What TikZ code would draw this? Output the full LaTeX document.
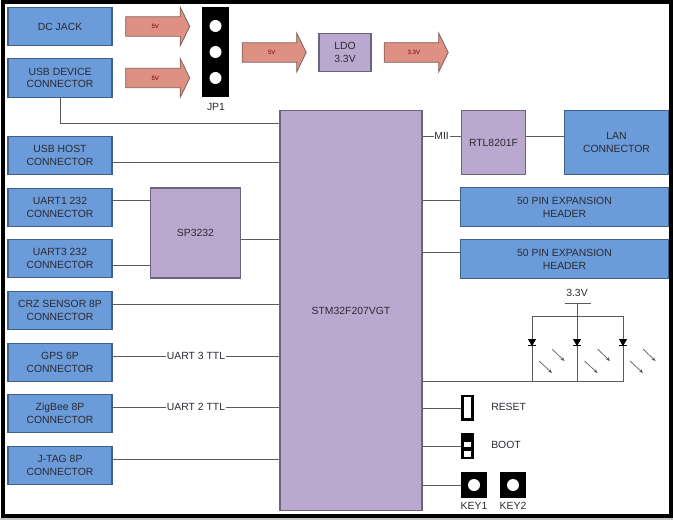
\documentclass[tikz,border=0pt]{standalone}
\usepackage{fontspec}
\setmainfont{Liberation Sans}
\usepackage{xcolor}
\usetikzlibrary{shapes,arrows.meta,positioning,calc}
\definecolor{connblue}{HTML}{6C9BD9}
\definecolor{connedge}{HTML}{3F5F8C}
\definecolor{chippurple}{HTML}{BBA8CE}
\definecolor{chipedge}{HTML}{6B6480}
\definecolor{pwrred}{HTML}{DE9182}
\definecolor{pwredge}{HTML}{7F5F5A}
\definecolor{wiregray}{HTML}{5A5A5A}
\definecolor{labelink}{HTML}{2A2A33}

\begin{document}
\begin{tikzpicture}[
    x=0.75pt, y=-0.75pt,
    connbox/.style={rectangle, draw=connedge, fill=connblue, line width=0.8pt, inner sep=0pt,
                 minimum width=78pt, minimum height=29pt, align=center, font=\fontsize{7.8}{9.6}\selectfont, text=labelink},
    chipbox/.style={rectangle, draw=chipedge, fill=chippurple, line width=0.8pt, inner sep=0pt,
                 align=center, font=\fontsize{7.8}{9.6}\selectfont, text=labelink},
    pinbox/.style={connbox, minimum width=155.5pt},
    pwrarrow/.style={single arrow, draw=pwredge, fill=pwrred, line width=0.6pt, inner xsep=0pt, inner ysep=5.4pt,
                 minimum height=48pt, minimum width=29pt, single arrow head extend=7.2pt,
                 single arrow tip angle=128, font=\fontsize{4.6}{5}\selectfont, text=red!45!black},
    wire/.style={draw=wiregray, line width=0.7pt},
    txt/.style={inner sep=0pt, font=\fontsize{7.8}{9.6}\selectfont, text=labelink},
    tag/.style={fill=white, inner sep=0.6pt, font=\fontsize{7.8}{9.6}\selectfont, text=labelink},
    blackbox/.style={rectangle, fill=black, inner sep=0pt},
    hole/.style={circle, fill=white, inner sep=0pt, minimum size=9pt},
    slot/.style={rectangle, fill=white, inner sep=0pt, minimum width=5.6pt},
    diode/.style={isosceles triangle, isosceles triangle apex angle=60, shape border rotate=-90,
                 fill=black, inner sep=0pt, minimum height=5.2pt, minimum width=5.8pt},
    glow/.style={-{Stealth[length=3pt,width=2.6pt]}, draw=wiregray, line width=0.5pt}
]
    \useasboundingbox (0,0) rectangle (673,520);
    \fill[gray!45] (0,518) rectangle (673,520);
    \draw[line width=3.2pt] (3,2.2) rectangle (671,516);

    \node[connbox] (dcjack) at (60,26.5) {DC JACK};
    \node[connbox] (usbdev) at (60,78) {USB DEVICE\\CONNECTOR};
    \node[connbox] (usbhost) at (60,155.5) {USB HOST\\CONNECTOR};
    \node[connbox] (uart1) at (60,207.5) {UART1 232\\CONNECTOR};
    \node[connbox] (uart3) at (60,258.5) {UART3 232\\CONNECTOR};
    \node[connbox] (crz) at (60,310.5) {CRZ SENSOR 8P\\CONNECTOR};
    \node[connbox] (gps) at (60,362.5) {GPS 6P\\CONNECTOR};
    \node[connbox] (zigbee) at (60,413.5) {ZigBee 8P\\CONNECTOR};
    \node[connbox] (jtag) at (60,465.5) {J-TAG 8P\\CONNECTOR};

    \node[chipbox, minimum width=68pt, minimum height=67.5pt] (sp) at (195.5,233) {SP3232};
    \node[chipbox, minimum width=106.5pt, minimum height=300.5pt] (stm) at (351,310.5) {STM32F207VGT};
    \node[chipbox, minimum width=39pt, minimum height=29pt] (ldo) at (345,52.5) {LDO\\3.3V};
    \node[chipbox, minimum width=48.5pt, minimum height=48.5pt] (rtl) at (493.5,142.5) {RTL8201F};
    \node[connbox, minimum height=48.5pt] (lan) at (616.5,142.5) {LAN\\CONNECTOR};
    \node[pinbox] (pina) at (564.5,207) {50 PIN EXPANSION\\HEADER};
    \node[pinbox] (pinb) at (564.5,259) {50 PIN EXPANSION\\HEADER};

    \node[pwrarrow] (pwra) at (155.3,26.5) {5V};
    \node[pwrarrow] (pwrb) at (155.3,78) {5V};
    \node[pwrarrow] (pwrc) at (271.8,52.5) {5V};
    \node[pwrarrow] (pwrd) at (413.8,52.5) {3.3V};

    \node[blackbox, minimum width=20pt, minimum height=67.5pt] (jp) at (215.5,52) {};
    \foreach \y/\n in {26/a,52/b,78/c}
        \node[hole] (jp\n) at (215.5,\y) {};
    \node[txt] (jplabel) at (216,107) {JP1};

    \foreach \n/\y in {usbhost/162,crz/304,jtag/459}
        \draw[wire] (\n.east |- 0,\y) -- (stm.west |- 0,\y);
    \foreach \n/\y in {uart1/200.7,uart3/265}
        \draw[wire] (\n.east |- 0,\y) -- (sp.west |- 0,\y);
    \draw[wire] (sp.east |- 0,239) -- (stm.west |- 0,239);
    \draw[wire] (gps.east |- 0,356) -- node[tag] {UART 3 TTL} (stm.west |- 0,356);
    \draw[wire] (zigbee.east |- 0,407) -- node[tag] {UART 2 TTL} (stm.west |- 0,407);

    \coordinate (usbin) at (stm.west |- 0,123);
    \draw[wire] (usbdev.south) |- (usbin);

    \draw[wire] (stm.east |- 0,136) -- node[tag] {MII} (rtl.west |- 0,136);
    \draw[wire] (rtl.east |- 0,136) -- (lan.west |- 0,136);
    \draw[wire] (stm.east |- 0,200) -- (pina.west |- 0,200);
    \draw[wire] (stm.east |- 0,252) -- (pinb.west |- 0,252);

    \coordinate (leda) at (532,381.7);
    \coordinate (ledb) at (577,381.7);
    \coordinate (ledc) at (623,381.7);
    \node[txt] (vcc) at (577,293) {3.3V};
    \coordinate (vbar) at (577,303);
    \draw[wire] (stm.east |- leda) -- (ledc) -- (623,316) -- (532,316) -- (leda);
    \draw[wire] (ledb) -- (vbar);
    \draw[wire] (565,303) -- (591,303);
    \foreach \n/\x/\d in {a/532/0,b/577/45.5,c/623/91}{
        \node[diode] (dio\n) at (\x,341.5) {};
        \draw[line width=0.7pt] (\x-3.8,345) -- (\x+3.8,345);
        \draw[glow] (539+\d,361) -- (552+\d,373);
        \draw[glow] (552+\d,349) -- (564.5+\d,361);
    }

    \node[blackbox, minimum width=10pt, minimum height=19.5pt] (reset) at (467.5,408) {};
    \node[slot, minimum height=15.5pt] (resetin) at (467.5,407.5) {};
    \node[blackbox, minimum width=10pt, minimum height=19.5pt] (boot) at (467.5,446) {};
    \node[slot, minimum height=3.8pt] (boota) at (467.5,444.5) {};
    \node[slot, minimum height=4.2pt] (bootb) at (467.5,454) {};
    \node[blackbox, minimum size=19.5pt] (keya) at (474,485) {};
    \node[blackbox, minimum size=19.5pt] (keyb) at (513,485) {};
    \node[hole] (keyahole) at (474,485) {};
    \node[hole] (keybhole) at (513,485) {};

    \node[txt, anchor=west] (resetlabel) at (491,407) {RESET};
    \node[txt, anchor=west] (bootlabel) at (491,445) {BOOT};
    \node[txt] (keyalabel) at (474,506) {KEY1};
    \node[txt] (keyblabel) at (513,506) {KEY2};

    \draw[wire] (stm.east |- reset) -- (reset);
    \draw[wire] (stm.east |- boot) -- (boot);
    \draw[wire] (stm.east |- keya) -- (keya);
\end{tikzpicture}
\end{document}
